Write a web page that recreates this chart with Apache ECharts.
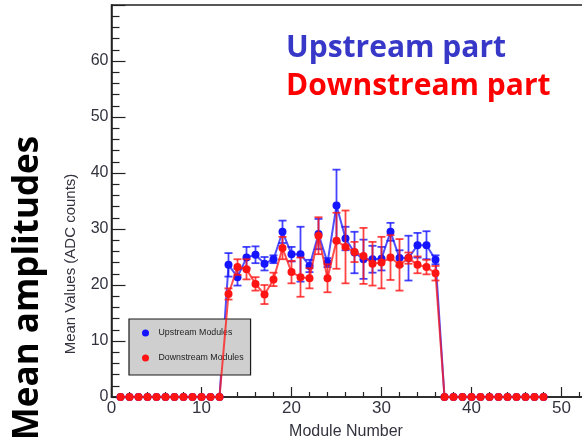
<!DOCTYPE html>
<html>
<head>
<meta charset="utf-8">
<script src="https://cdn.jsdelivr.net/npm/echarts@6/dist/echarts.min.js"></script>
<style>
  html, body { margin: 0; padding: 0; background: #ffffff; }
  #chart { width: 582px; height: 445px; }
</style>
</head>
<body>
<div id="chart"></div>
<script>
// Module numbers along the detector
const modules = [1, 2, 3, 4, 5, 6, 7, 8, 9, 10, 11, 12,
  13, 14, 15, 16, 17, 18, 19, 20, 21, 22, 23, 24,
  25, 26, 27, 28, 29, 30, 31, 32, 33, 34, 35, 36,
  37, 38, 39, 40, 41, 42, 43, 44, 45, 46, 47, 48];

// Mean amplitude (ADC counts) per module and its error
const upstreamMean = [0, 0, 0, 0, 0, 0, 0, 0, 0, 0, 0, 0,
  23.6, 21.4, 24.9, 25.4, 23.8, 24.6, 29.5, 25.5, 25.5, 23.4, 29.1, 24.0,
  34.2, 28.3, 25.8, 24.6, 24.6, 24.7, 29.5, 24.8, 24.8, 27.1, 27.1, 24.5,
  0, 0, 0, 0, 0, 0, 0, 0, 0, 0, 0, 0];
const upstreamErr = [0, 0, 0, 0, 0, 0, 0, 0, 0, 0, 0, 0,
  2.1, 1.5, 1.9, 1.5, 1.2, 0.7, 2.0, 1.3, 4.9, 1.1, 2.7, 0.8,
  6.4, 2.1, 3.7, 3.5, 2.4, 2.1, 1.6, 1.4, 4.0, 2.2, 2.5, 0.8,
  0, 0, 0, 0, 0, 0, 0, 0, 0, 0, 0, 0];

const downstreamMean = [0, 0, 0, 0, 0, 0, 0, 0, 0, 0, 0, 0,
  18.4, 23.2, 22.8, 20.2, 18.3, 21.0, 26.6, 22.3, 21.4, 21.2, 28.8, 21.2,
  27.9, 26.8, 25.9, 25.2, 23.8, 24.0, 24.9, 23.6, 24.8, 23.6, 23.2, 22.1,
  0, 0, 0, 0, 0, 0, 0, 0, 0, 0, 0, 0];
const downstreamErr = [0, 0, 0, 0, 0, 0, 0, 0, 0, 0, 0, 0,
  1.0, 1.4, 1.8, 1.2, 1.7, 1.2, 2.0, 2.0, 3.5, 1.8, 3.3, 2.5,
  5.0, 6.5, 1.8, 5.0, 3.9, 4.6, 4.0, 4.6, 1.0, 1.5, 1.3, 1.3,
  0, 0, 0, 0, 0, 0, 0, 0, 0, 0, 0, 0];

// Axis ranges; only the ticks up to 50 (x) and 60 (y) carry labels
const xTicks = { min: 0, max: 60, interval: 10, lastLabel: 50 };
const yTicks = { min: 0, max: 70, interval: 10, lastLabel: 60 };

const BLUE = '#1414ff';
const RED = '#ff1414';

function points(values) {
  return modules.map((m, i) => [m, values[i]]);
}
function errorRanges(values, errs) {
  const out = [];
  modules.forEach((m, i) => {
    if (errs[i] > 0) out.push([m, values[i] - errs[i], values[i] + errs[i]]);
  });
  return out;
}

function errorBarSeries(name, values, errs, color, z) {
  return {
    type: 'custom',
    name: name,
    z: z,
    silent: true,
    itemStyle: { color: color },
    data: errorRanges(values, errs),
    encode: { x: 0, y: [1, 2] },
    renderItem: function (params, api) {
      const x = api.value(0);
      const lo = api.coord([x, api.value(1)]);
      const hi = api.coord([x, api.value(2)]);
      const cap = 4;
      const style = { stroke: color, lineWidth: 1.8, opacity: 0.8 };
      return {
        type: 'group',
        children: [
          { type: 'line', shape: { x1: lo[0], y1: lo[1], x2: hi[0], y2: hi[1] }, style: style },
          { type: 'line', shape: { x1: hi[0] - cap, y1: hi[1], x2: hi[0] + cap, y2: hi[1] }, style: style },
          { type: 'line', shape: { x1: lo[0] - cap, y1: lo[1], x2: lo[0] + cap, y2: lo[1] }, style: style }
        ]
      };
    }
  };
}

function lineSeries(name, values, color, z) {
  return {
    type: 'line',
    name: name,
    z: z,
    data: points(values),
    symbol: 'circle',
    symbolSize: 8,
    showSymbol: true,
    animation: false,
    itemStyle: { color: color, borderWidth: 0 },
    lineStyle: { color: color, width: 2, opacity: 0.75 }
  };
}

const axisTextColor = '#33333f';

const chart = echarts.init(document.getElementById('chart'), null, { renderer: 'canvas' });
chart.setOption({
  animation: false,
  backgroundColor: '#ffffff',
  grid: {
    left: 111.5, top: 5, bottom: 48, right: -69.5,
    containLabel: false,
    outerBoundsMode: 'none',
    show: true, borderColor: '#222222', borderWidth: 1.5,
    backgroundColor: 'transparent'
  },
  xAxis: {
    type: 'value',
    min: xTicks.min, max: xTicks.max, interval: xTicks.interval,
    name: 'Module Number',
    nameLocation: 'middle',
    nameGap: 27,
    nameTextStyle: {
      fontFamily: 'Liberation Sans', fontSize: 16, color: axisTextColor,
      padding: [0, 71, 0, 0]
    },
    axisLine: { show: true, onZero: false, lineStyle: { color: '#222222', width: 1.5 } },
    axisTick: { show: true, inside: true, length: 10, lineStyle: { color: '#222222', width: 1.2 } },
    minorTick: { show: true, splitNumber: 5, length: 5, lineStyle: { color: '#222222', width: 1.2 } },
    splitLine: { show: false },
    axisLabel: {
      fontFamily: 'Liberation Sans', fontSize: 17, color: axisTextColor, margin: 3,
      formatter: v => (v <= xTicks.lastLabel ? String(v) : '')
    }
  },
  yAxis: {
    type: 'value',
    min: yTicks.min, max: yTicks.max, interval: yTicks.interval,
    name: 'Mean Values (ADC counts)',
    nameLocation: 'middle',
    nameRotate: 90,
    nameGap: 33,
    nameTextStyle: {
      fontFamily: 'Liberation Sans', fontSize: 15, color: axisTextColor,
      padding: [0, 126, 0, 0]
    },
    axisLine: { show: true, onZero: false, lineStyle: { color: '#222222', width: 1.5 } },
    axisTick: { show: true, inside: true, length: 14, lineStyle: { color: '#222222', width: 1.2 } },
    minorTick: { show: true, splitNumber: 5, length: 8, lineStyle: { color: '#222222', width: 1.2 } },
    splitLine: { show: false },
    axisLabel: {
      fontFamily: 'Liberation Sans', fontSize: 16, color: axisTextColor, margin: 3,
      formatter: v => (v <= yTicks.lastLabel ? String(v) : '')
    }
  },
  legend: {
    orient: 'vertical',
    left: 129, top: 319,
    backgroundColor: '#cfcfcf',
    borderColor: '#1a1a1a',
    borderWidth: 1.2,
    borderRadius: 0,
    padding: [9, 7, 12, 13],
    itemGap: 15,
    itemWidth: 16,
    itemHeight: 7,
    icon: 'circle',
    selectedMode: false,
    data: [
      { name: 'Upstream Modules', itemStyle: { color: BLUE } },
      { name: 'Downstream Modules', itemStyle: { color: RED } }
    ],
    textStyle: { fontFamily: 'Liberation Sans', fontSize: 8.8, color: '#222222', lineHeight: 10 }
  },
  graphic: [
    {
      type: 'text', x: 28, y: 288, rotation: Math.PI / 2,
      style: {
        text: 'Mean amplitudes', fill: '#000000',
        font: 'bold 35px "Open Sans"', align: 'center', verticalAlign: 'middle'
      }
    },
    {
      type: 'text', x: 286, y: 48,
      style: {
        text: 'Upstream part', fill: '#3838c8',
        font: 'bold 30px "Open Sans"', align: 'left', verticalAlign: 'middle'
      }
    },
    {
      type: 'text', x: 286, y: 86,
      style: {
        text: 'Downstream part', fill: '#ff0000',
        font: 'bold 30px "Open Sans"', align: 'left', verticalAlign: 'middle'
      }
    }
  ],
  series: [
    errorBarSeries('Upstream Modules', upstreamMean, upstreamErr, BLUE, 2),
    lineSeries('Upstream Modules', upstreamMean, BLUE, 3),
    errorBarSeries('Downstream Modules', downstreamMean, downstreamErr, RED, 4),
    lineSeries('Downstream Modules', downstreamMean, RED, 5)
  ]
});
</script>
</body>
</html>
